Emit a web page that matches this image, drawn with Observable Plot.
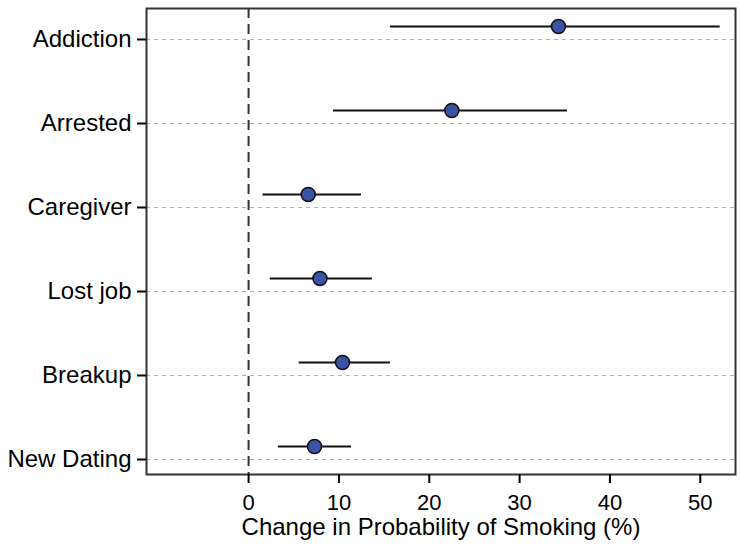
<!DOCTYPE html>
<html>
<head>
<meta charset="utf-8">
<script src="https://cdn.jsdelivr.net/npm/d3@7"></script>
<script src="https://cdn.jsdelivr.net/npm/@observablehq/plot@0.6"></script>
<style>
  html, body { margin: 0; padding: 0; background: #fff; }
  #chart svg { display: block; }
</style>
</head>
<body>
<div id="chart"></div>
<script>
const categories = ["Addiction", "Arrested", "Caregiver", "Lost job", "Breakup", "New Dating"];
const estimate = [34.3, 22.5, 6.6, 7.9, 10.4, 7.3];
const lower = [15.7, 9.4, 1.6, 2.4, 5.6, 3.3];
const upper = [52.2, 35.3, 12.5, 13.7, 15.7, 11.4];
const xTicks = [0, 10, 20, 30, 40, 50];
const xLabel = "Change in Probability of Smoking (%)";

const data = categories.map((c, i) => ({cat: c, est: estimate[i], lo: lower[i], hi: upper[i]}));

const chart = Plot.plot({
  width: 740,
  height: 546,
  marginLeft: 146,
  marginRight: 5,
  marginTop: 8,
  marginBottom: 72,
  style: {fontFamily: "'Liberation Sans', Arial, Helvetica, sans-serif", fontSize: "22px", color: "#000", background: "#fff"},
  x: {domain: [-11.3, 53.9]},
  y: {type: "point", domain: categories, padding: 0, insetTop: 30, insetBottom: 15},
  marks: [
    Plot.gridY({stroke: "#b0b0b0", strokeOpacity: 1, strokeWidth: 1.2, strokeDasharray: "4,4"}),
    Plot.ruleX([0], {stroke: "#333", strokeWidth: 2, strokeDasharray: "10,6"}),
    Plot.ruleY(data, {y: "cat", x1: "lo", x2: "hi", dy: -13, stroke: "#111", strokeWidth: 2}),
    Plot.dot(data, {x: "est", y: "cat", dy: -13, r: 7, fill: "#3a53a6", stroke: "#111", strokeWidth: 1.6}),
    Plot.frame({stroke: "#333", strokeWidth: 2}),
    Plot.axisY({tickSize: 9, tickPadding: 6, fontSize: 24, strokeWidth: 2, label: null}),
    Plot.axisX({ticks: xTicks, tickSize: 9, tickPadding: 11, fontSize: 22, strokeWidth: 2, label: null}),
    Plot.text([xLabel], {frameAnchor: "bottom", dy: 53, lineAnchor: "middle", fontSize: 24, fill: "#000"})
  ]
});
document.getElementById("chart").appendChild(chart);
</script>
</body>
</html>
